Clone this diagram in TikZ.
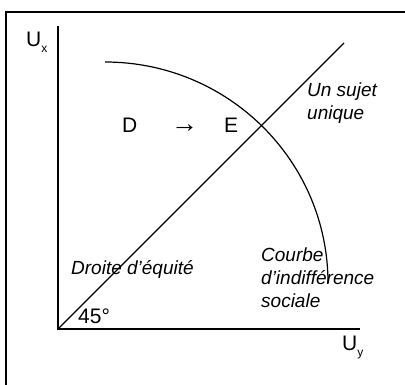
\documentclass[tikz,border=0pt]{standalone}
\usepackage{fontspec}
\setmainfont{Liberation Sans}
\usepackage{tikz}
\usetikzlibrary{arrows.meta}

\begin{document}
\begin{tikzpicture}[x=1pt,y=1pt,
  big/.style={font=\fontsize{21}{25}\selectfont,inner sep=0pt,anchor=base west},
  note/.style={font=\fontsize{19}{23}\selectfont\itshape,inner sep=0pt,anchor=base west,align=left}]
\useasboundingbox (0,0) rectangle (405,385);
\draw[line width=1.2pt](6,-20) rectangle (430,373);
\coordinate (O) at (58,56);
\draw[line width=1.4pt](58,359)--(O)--(360,56);
\draw[line width=1.2pt](O)--(344,342);
\draw[line width=1.2pt](105,323) arc[start angle=90,end angle=0,x radius=223,y radius=221];
\node[big] (ux) at (26,338) {U\raisebox{-6pt}{\fontsize{12}{12}\selectfont x}};
\node[big] (uy) at (342,34) {U\raisebox{-6pt}{\fontsize{12}{12}\selectfont y}};
\node[big] (d) at (122,252) {D};
\node[big,font=\fontsize{27}{27}\selectfont] (arr) at (171,252) {→};
\node[big] (e) at (224,252) {E};
\node[big] (deg) at (78,61) {45°};
% base = last line
\node[note] (sujet) at (307,265) {Un sujet\\unique};
\node[note] (equite) at (71,110) {Droite d’équité};
\node[note] (courbe) at (261,77) {Courbe\\d’indifférence\\sociale};
\end{tikzpicture}
\end{document}
